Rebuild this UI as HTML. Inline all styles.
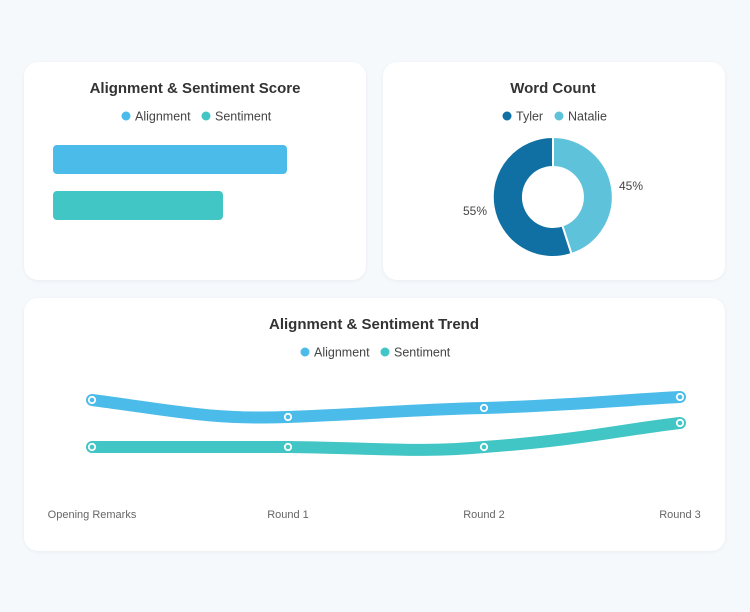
<!DOCTYPE html>
<html><head><style>
body{margin:0;width:750px;height:612px;background:#f5f9fc;font-family:"Liberation Sans",sans-serif;position:relative;overflow:hidden}
.card{position:absolute;background:#fff;border-radius:14px;box-shadow:0 1px 4px rgba(0,0,0,0.05)}
</style></head><body>
<div class="card" style="left:24px;top:62px;width:342px;height:218px"></div>
<div class="card" style="left:383px;top:62px;width:342px;height:218px"></div>
<div class="card" style="left:24px;top:298px;width:701px;height:253px"></div>
<svg width="750" height="612" style="position:absolute;left:0;top:0" font-family="Liberation Sans, sans-serif">
<g fill="#333" font-size="15" font-weight="bold" text-anchor="middle">
<text x="195" y="93">Alignment &amp; Sentiment Score</text>
<text x="553" y="93">Word Count</text>
<text x="374" y="329">Alignment &amp; Sentiment Trend</text>
</g>
<g font-size="12.5" fill="#444">
<circle cx="126" cy="116" r="4.5" fill="#4bbbe9"/><text x="135" y="120.5">Alignment</text>
<circle cx="206" cy="116" r="4.5" fill="#42c5c5"/><text x="215" y="120.5">Sentiment</text>
<circle cx="507" cy="116" r="4.5" fill="#1170a3"/><text x="516" y="120.5">Tyler</text>
<circle cx="559" cy="116" r="4.5" fill="#5ec2da"/><text x="568" y="120.5">Natalie</text>
<circle cx="305" cy="352" r="4.5" fill="#4bbbe9"/><text x="314" y="356.5">Alignment</text>
<circle cx="385" cy="352" r="4.5" fill="#42c5c5"/><text x="394" y="356.5">Sentiment</text>
</g>
<rect x="53" y="145" width="234" height="29" rx="4" fill="#4bbbe9"/>
<rect x="53" y="191" width="170" height="29" rx="4" fill="#42c5c5"/>
<path d="M553 137 A60 60 0 0 1 571.5 254 L562.3 225.5 A30 30 0 0 0 553 167Z" fill="#5ec2da" stroke="#fff" stroke-width="2"/>
<path d="M571.5 254 A60 60 0 1 1 553 137 L553 167 A30 30 0 1 0 562.3 225.5Z" fill="#1170a3" stroke="#fff" stroke-width="2"/>
<g font-size="12" fill="#444">
<text x="619" y="190">45%</text>
<text x="463" y="215">55%</text>
</g>
<path d="M92 400 C170 410,210 420,288 417 C370 414,400 410,484 408 C580 405,620 400,680 397" fill="none" stroke="#4bbbe9" stroke-width="12" stroke-linecap="round"/>
<path d="M92 447 C170 447,210 447,288 447 C380 448,420 453,484 447 C580 440,620 430,680 423" fill="none" stroke="#42c5c5" stroke-width="12" stroke-linecap="round"/>
<g fill="none" stroke="#fff" stroke-width="1.8">
<circle cx="92" cy="400" r="3.2"/><circle cx="288" cy="417" r="3.2"/><circle cx="484" cy="408" r="3.2"/><circle cx="680" cy="397" r="3.2"/>
<circle cx="92" cy="447" r="3.2"/><circle cx="288" cy="447" r="3.2"/><circle cx="484" cy="447" r="3.2"/><circle cx="680" cy="423" r="3.2"/>
</g>
<g font-size="11" fill="#666" text-anchor="middle">
<text x="92" y="518">Opening Remarks</text>
<text x="288" y="518">Round 1</text>
<text x="484" y="518">Round 2</text>
<text x="680" y="518">Round 3</text>
</g>
</svg>
</body></html>
